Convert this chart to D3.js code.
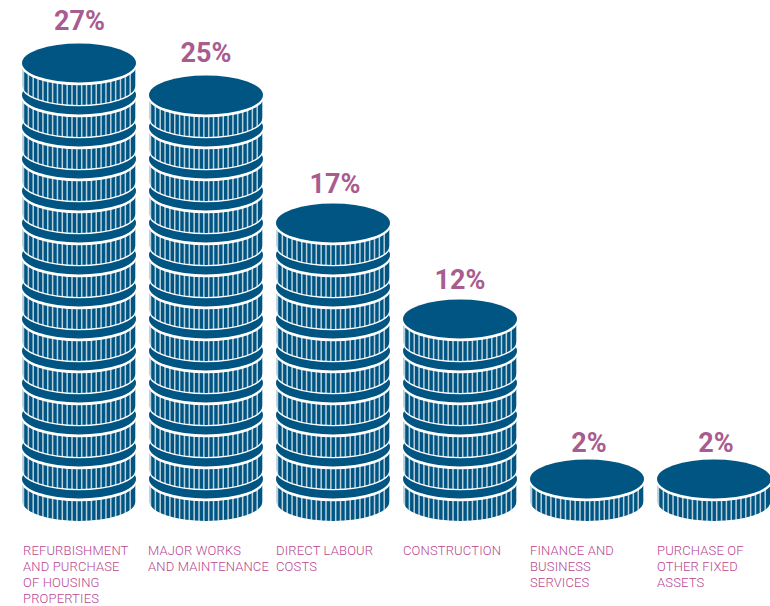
<!DOCTYPE html>
<html><head><meta charset="utf-8">
<script src="https://cdn.jsdelivr.net/npm/d3@7/dist/d3.min.js"></script>
<style>html,body{margin:0;padding:0;background:#fff}svg{display:block}</style></head>
<body><svg id="c" width="770" height="606"></svg>
<script>
const categories=["Refurbishment","Major works","Direct labour","Construction","Finance","Purchase"];
const labelLines=[
 ["REFURBISHMENT","AND PURCHASE","OF HOUSING","PROPERTIES"],
 ["MAJOR WORKS","AND MAINTENANCE"],
 ["DIRECT LABOUR","COSTS"],
 ["CONSTRUCTION"],
 ["FINANCE AND","BUSINESS","SERVICES"],
 ["PURCHASE OF","OTHER FIXED","ASSETS"]];
const percents=[27,25,17,12,2,2];
const coinCounts=[14,13,9,6,1,1];
const labelGap=[13.5,13.5,10,10,7,7];
const labelDx=[.5,0,2,0,2,2];
const labelX=[23,148,276,403,530,657];

const BLUE="#005582",PCT="#a85c8f",LAB="#b8478f";
const svg=d3.select("#c");
const y=d3.scaleLinear().domain([0,14]).range([479,31]);
const x=d3.scalePoint().domain(categories).range([79,714]);
const rx=57,ry=19.6,h=23;
const stripes=d3.range(-55.5,56,4.85);

const defs=svg.append("defs");
const sidePath=`M${-rx},0 V${h} A${rx},${ry} 0 0 0 ${rx},${h} V0 Z`;
defs.append("clipPath").attr("id","side").append("path").attr("d",sidePath);

categories.forEach((c,i)=>{
  const g=svg.append("g").attr("transform",`translate(${x(c)},0)`);
  d3.range(coinCounts[i]).forEach(k=>{
    const coin=g.append("g").attr("transform",`translate(0,${y(k)})`);
    coin.append("path").attr("d",sidePath).attr("fill",BLUE).attr("stroke","#fff").attr("stroke-width",1.4);
    coin.append("g").attr("clip-path","url(#side)")
      .selectAll("line").data(stripes).join("line")
      .attr("x1",d=>d).attr("x2",d=>d).attr("y1",0).attr("y2",h+ry+2)
      .attr("stroke","#fff").attr("stroke-width",1.5).attr("stroke-opacity",.72);
    coin.append("ellipse").attr("cy",2.4).attr("rx",rx+.7).attr("ry",ry+.2).attr("fill","#fff");
    coin.append("ellipse").attr("rx",rx).attr("ry",ry).attr("fill",BLUE);
  });
  g.append("text").attr("x",labelDx[i]).attr("y",y(coinCounts[i]-1)-ry-labelGap[i])
    .attr("text-anchor","middle").attr("font-family","Roboto").attr("font-weight",700)
    .attr("font-size",27).attr("fill",PCT).text(percents[i]+"%");
  const t=svg.append("text").attr("font-family","Roboto").attr("font-weight",300)
    .attr("font-size",13).attr("letter-spacing",.15).attr("fill",LAB);
  labelLines[i].forEach((l,j)=>t.append("tspan").attr("x",labelX[i]).attr("y",555+16*j).text(l));
});
</script></body></html>
